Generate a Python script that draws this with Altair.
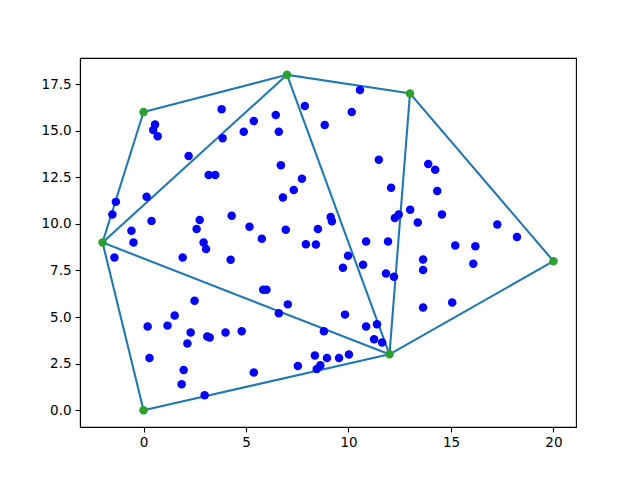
import altair as alt
import pandas as pd

# blue scatter points
px = [3.81, 0.56, 0.47, 0.69, 4.89, 3.86, 2.2, 3.18, 3.5, -1.35, -1.52, 0.15, 4.3, 0.39, 2.74,
      2.59, -0.59, -0.49, 2.93, 3.05, 5.17, 10.56, 7.87, 10.16, 5.38, 6.45, 6.6, 8.84, 11.48, 6.7,
      7.73, 7.33, 6.8, 12.08, 13.01, 12.45, 12.26, 9.13, 9.19, 6.94, 8.51, 5.77, 7.92, 8.41, 10.86,
      11.93, 13.89, 14.23, 14.33, 13.38, 14.56, 17.26, 18.22, 15.21, 16.19, 13.64, 13.64, 16.09, 13.64, 15.06,
      9.98, 9.73, 10.71, 11.83, 12.22, 5.84, 6.0, 7.04, 6.6, 9.83, 10.86, 11.39, 11.25, 11.64, 8.8,
      8.36, 8.95, 9.54, 10.02, 7.53, 8.63, 8.45, 5.38, -1.42, 1.91, 4.25, 2.49, 1.52, 0.2, 1.17,
      2.3, 2.14, 3.11, 3.23, 4.0, 4.79, 0.29, 1.96, 1.86, 2.98]
py = [16.15, 15.33, 15.03, 14.7, 14.94, 14.6, 13.64, 12.62, 12.62, 11.18, 10.5, 11.46, 10.43, 10.16, 10.21,
      9.73, 9.63, 9.0, 9.0, 8.65, 9.84, 17.18, 16.33, 16.0, 15.52, 15.84, 14.94, 15.31, 13.44, 13.15,
      12.42, 11.82, 11.41, 11.94, 10.76, 10.5, 10.32, 10.37, 10.14, 9.68, 9.73, 9.2, 8.91, 8.89, 9.05,
      9.05, 13.21, 12.9, 11.76, 10.07, 10.5, 9.96, 9.3, 8.84, 8.8, 8.09, 7.52, 7.86, 5.51, 5.78,
      8.29, 7.65, 7.81, 7.34, 7.16, 6.47, 6.47, 5.68, 5.2, 5.13, 4.49, 4.61, 3.81, 3.64, 4.24,
      2.94, 2.8, 2.8, 2.99, 2.37, 2.42, 2.21, 2.03, 8.2, 8.2, 8.07, 5.88, 5.08, 4.49, 4.54,
      4.17, 3.58, 3.96, 3.9, 4.17, 4.24, 2.8, 2.16, 1.39, 0.8]

# green vertices
vx = [-2, 0, 7, 13, 20, 12, 0]
vy = [9, 16, 18, 17, 8, 3, 0]

# edges as index pairs into the vertex lists
edge_a = [0, 1, 2, 3, 4, 5, 6, 0, 2, 3, 0]
edge_b = [1, 2, 3, 4, 5, 6, 0, 2, 5, 5, 5]

pts = pd.DataFrame({"x": px, "y": py})
verts = pd.DataFrame({"x": vx, "y": vy})
edges = pd.DataFrame({
    "x": [vx[a] for a in edge_a], "y": [vy[a] for a in edge_a],
    "x2": [vx[b] for b in edge_b], "y2": [vy[b] for b in edge_b],
})

xs = alt.Scale(domain=[-3.1, 21.1], nice=False, zero=False)
ys = alt.Scale(domain=[-0.9, 18.9], nice=False, zero=False)

xax = alt.Axis(values=[0, 5, 10, 15, 20], format="d", title=None, grid=False)
yax = alt.Axis(values=[0, 2.5, 5, 7.5, 10, 12.5, 15, 17.5], format=".1f", title=None, grid=False)

lines = alt.Chart(edges).mark_rule(color="#1f77b4", strokeWidth=2.08, strokeCap="square").encode(
    x=alt.X("x:Q", scale=xs, axis=xax),
    y=alt.Y("y:Q", scale=ys, axis=yax),
    x2="x2:Q", y2="y2:Q",
)
blue = alt.Chart(pts).mark_circle(color="#0000ff", opacity=1, size=72).encode(
    x=alt.X("x:Q", scale=xs), y=alt.Y("y:Q", scale=ys))
green = alt.Chart(verts).mark_circle(color="#2ca02c", opacity=1, size=72).encode(
    x=alt.X("x:Q", scale=xs), y=alt.Y("y:Q", scale=ys))

chart = alt.layer(lines, blue, green).properties(
    width=496, height=369,
    autosize=alt.AutoSizeParams(type="none"),
    padding={"left": 72, "top": 50, "right": 56, "bottom": 45},
    background="white",
).configure_view(stroke="black", strokeWidth=1.1).configure_axis(
    domainColor="black", domainWidth=1.1, tickColor="black", tickSize=4.9, tickWidth=1.1,
    labelColor="black", labelFont="DejaVu Sans", labelFontSize=13.5, labelPadding=4,
)

chart.save("out.html", embed_options={"renderer": "svg", "actions": False})
